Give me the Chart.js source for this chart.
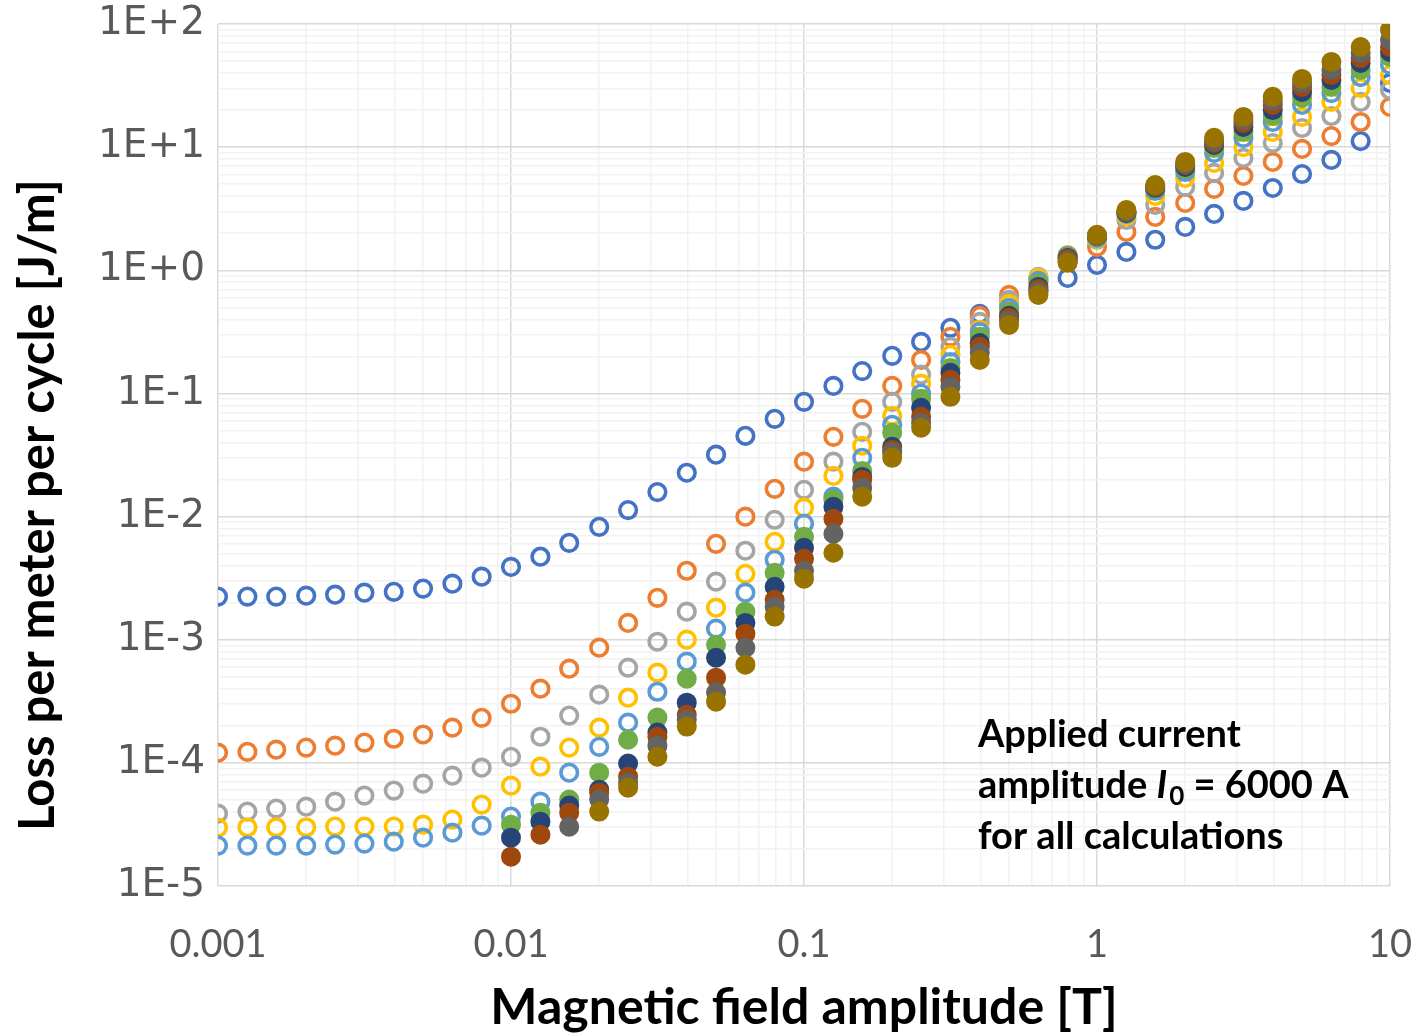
<!DOCTYPE html>
<html>
<head>
<meta charset="utf-8">
<title>Loss per meter per cycle</title>
<script src="https://cdn.jsdelivr.net/npm/chart.js@4/dist/chart.umd.min.js"></script>
<style>
    body { margin: 0; background: #fff; }
    canvas { display: block; }
</style>
</head>
<body>
<canvas id="lossChart" width="1414" height="1036"></canvas>
<script>
// Magnetic field amplitude [T], 10 points per decade
const fieldValues = [
    0.001, 0.00126, 0.00158, 0.002, 0.00251, 0.00316, 0.00398, 0.00501, 0.00631, 0.00794,
    0.01, 0.0126, 0.0158, 0.02, 0.0251, 0.0316, 0.0398, 0.0501, 0.0631, 0.0794,
    0.1, 0.126, 0.158, 0.2, 0.251, 0.316, 0.398, 0.501, 0.631, 0.794,
    1, 1.26, 1.58, 2, 2.51, 3.16, 3.98, 5.01, 6.31, 7.94, 10
];

// Loss per meter per cycle [J/m], one array per calculation
const lossBlue = [
    2.24e-3, 2.24e-3, 2.24e-3, 2.28e-3, 2.32e-3, 2.41e-3, 2.45e-3, 2.6e-3, 2.85e-3, 3.25e-3,
    3.9e-3, 4.72e-3, 6.12e-3, 8.26e-3, 1.13e-2, 1.58e-2, 2.27e-2, 3.18e-2, 4.53e-2, 6.22e-2,
    8.55e-2, 0.115, 0.152, 0.202, 0.262, 0.341, 0.443, 0.54, 0.68, 0.867,
    1.106, 1.41, 1.77, 2.25, 2.87, 3.66, 4.66, 6.05, 7.87, 11.2, 33.2
];
const lossOrange = [
    1.21e-4, 1.23e-4, 1.28e-4, 1.33e-4, 1.38e-4, 1.46e-4, 1.57e-4, 1.70e-4, 1.93e-4, 2.32e-4,
    3.02e-4, 4.0e-4, 5.82e-4, 8.61e-4, 1.37e-3, 2.19e-3, 3.63e-3, 6.01e-3, 9.98e-3, 1.68e-2,
    2.79e-2, 4.44e-2, 7.5e-2, 0.115, 0.187, 0.288, 0.427, 0.631, 0.851, 1.19,
    1.55, 2.05, 2.71, 3.52, 4.58, 5.84, 7.59, 9.67, 12.3, 16.0, 21.2
];
const lossGray = [
    3.87e-5, 4.02e-5, 4.25e-5, 4.41e-5, 4.84e-5, 5.42e-5, 5.95e-5, 6.78e-5, 7.87e-5, 9.14e-5,
    1.12e-4, 1.63e-4, 2.42e-4, 3.58e-4, 5.93e-4, 9.63e-4, 1.69e-3, 2.96e-3, 5.28e-3, 9.42e-3,
    1.65e-2, 2.79e-2, 4.88e-2, 8.55e-2, 0.142, 0.239, 0.381, 0.575, 0.884, 1.31,
    1.77, 2.56, 3.4, 4.75, 6.18, 8.17, 10.8, 14.3, 17.9, 23.3, 29.1
];
const lossYellow = [
    2.98e-5, 3.0e-5, 3.0e-5, 3.0e-5, 3.04e-5, 3.04e-5, 3.04e-5, 3.15e-5, 3.46e-5, 4.58e-5,
    6.53e-5, 9.31e-5, 1.33e-4, 1.93e-4, 3.38e-4, 5.4e-4, 1.0e-3, 1.82e-3, 3.43e-3, 6.24e-3,
    1.18e-2, 2.14e-2, 3.76e-2, 6.58e-2, 0.12, 0.206, 0.328, 0.534, 0.867, 1.33,
    1.8, 2.76, 4.02, 5.62, 7.45, 10.0, 13.3, 17.6, 23.3, 30.2, 38.5
];
const lossLightBlue = [
    2.13e-5, 2.13e-5, 2.13e-5, 2.13e-5, 2.17e-5, 2.21e-5, 2.29e-5, 2.47e-5, 2.71e-5, 3.09e-5,
    3.66e-5, 4.84e-5, 8.33e-5, 1.35e-4, 2.12e-4, 3.78e-4, 6.63e-4, 1.23e-3, 2.41e-3, 4.46e-3,
    8.75e-3, 1.45e-2, 3.0e-2, 5.56e-2, 9.97e-2, 0.18, 0.316, 0.495, 0.82, 1.31,
    1.83, 2.87, 4.41, 6.29, 8.97, 11.9, 16.0, 22.0, 27.5, 37.1, 46.5
];
const lossGreen = [
    null, null, null, null, null, null, null, null, null, null,
    3.15e-5, 3.94e-5, 5.03e-5, 8.33e-5, 1.54e-4, 2.33e-4, 4.82e-4, 9.1e-4, 1.69e-3, 3.5e-3,
    6.86e-3, 1.37e-2, 2.35e-2, 4.79e-2, 9.04e-2, 0.161, 0.288, 0.459, 0.776, 1.28,
    1.87, 2.92, 4.58, 6.65, 9.86, 13.3, 17.9, 25.1, 30.8, 42.3, 54.0
];
const lossNavy = [
    null, null, null, null, null, null, null, null, null, null,
    2.47e-5, 3.33e-5, 4.5e-5, 6.06e-5, 9.86e-5, 1.76e-4, 3.08e-4, 7.14e-4, 1.37e-3, 2.69e-3,
    5.58e-3, 1.2e-2, 2.1e-2, 3.69e-2, 7.64e-2, 0.147, 0.257, 0.427, 0.733, 1.26,
    1.9, 2.92, 4.67, 6.9, 10.4, 14.6, 20.0, 28.1, 35.1, 48.2, 59.3
];
const lossBrown = [
    null, null, null, null, null, null, null, null, null, null,
    1.73e-5, 2.61e-5, 3.94e-5, 5.73e-5, 7.73e-5, 1.63e-4, 2.46e-4, 4.92e-4, 1.12e-3, 2.11e-3,
    4.54e-3, 9.6e-3, 1.99e-2, 3.48e-2, 6.46e-2, 0.129, 0.239, 0.411, 0.706, 1.24,
    1.9, 2.98, 4.75, 7.17, 10.8, 15.7, 22.0, 30.8, 38.5, 53.0, 65.0
];
const lossDarkGray = [
    null, null, null, null, null, null, null, null, null, null,
    null, null, 3.03e-5, 5.03e-5, 6.9e-5, 1.38e-4, 2.24e-4, 3.72e-4, 8.61e-4, 1.85e-3,
    3.63e-3, 7.25e-3, 1.71e-2, 3.3e-2, 5.77e-2, 0.113, 0.214, 0.388, 0.668, 1.19,
    1.9, 2.98, 4.84, 7.3, 11.2, 16.6, 23.7, 33.2, 42.3, 58.2, 74.1
];
const lossGold = [
    null, null, null, null, null, null, null, null, null, null,
    null, null, null, 4.02e-5, 6.29e-5, 1.12e-4, 1.97e-4, 3.14e-4, 6.27e-4, 1.54e-3,
    3.13e-3, 5.08e-3, 1.45e-2, 3.0e-2, 5.26e-2, 9.38e-2, 0.187, 0.36, 0.631, 1.15,
    1.94, 3.09, 4.93, 7.59, 11.9, 17.6, 25.6, 35.8, 49.2, 65.0, 89.4
];

const xTickLabels = ['0.001', '0.01', '0.1', '1', '10'];
const yTickLabels = ['1E-5', '1E-4', '1E-3', '1E-2', '1E-1', '1E+0', '1E+1', '1E+2'];

const xTitle = 'Magnetic field amplitude [T]';
const yTitle = 'Loss per meter per cycle [J/m]';
const noteLines = ['Applied current', 'amplitude ', 'for all calculations'];

// open markers first, filled ones after (drawn on top)
const seriesList = [
    { data: lossBlue, color: '#4472C4', filled: false },
    { data: lossOrange, color: '#ED7D31', filled: false },
    { data: lossGray, color: '#A5A5A5', filled: false },
    { data: lossYellow, color: '#FFC000', filled: false },
    { data: lossLightBlue, color: '#5B9BD5', filled: false },
    { data: lossGreen, color: '#70AD47', filled: true },
    { data: lossNavy, color: '#264478', filled: true },
    { data: lossBrown, color: '#9E480E', filled: true },
    { data: lossDarkGray, color: '#636363', filled: true },
    { data: lossGold, color: '#997300', filled: true }
];

function toPoints(values) {
    const pts = [];
    values.forEach((v, i) => {
        if (v !== null) pts.push({ x: fieldValues[i], y: v });
    });
    return pts;
}

function isDecade(v) {
    const e = Math.log10(v);
    return Math.abs(e - Math.round(e)) < 1e-6;
}

// all 1..9 x 10^n ticks so every minor gridline shows
function logTicks(scale) {
    const ticks = [];
    const lo = Math.round(Math.log10(scale.min));
    const hi = Math.round(Math.log10(scale.max));
    for (let e = lo; e <= hi; e++) {
        for (let m = 1; m <= 9; m++) {
            const v = m * Math.pow(10, e);
            if (v > scale.max * 1.0001) break;
            ticks.push({ value: v, major: m === 1 });
        }
    }
    scale.ticks = ticks;
}

const gridColor = (c) => (c.tick && isDecade(c.tick.value) ? '#D9D9D9' : '#F2F2F2');

const textPlugin = {
    id: 'chartTexts',
    afterDraw(chart) {
        const ctx = chart.ctx;
        const area = chart.chartArea;
        ctx.save();
        ctx.fillStyle = '#000';
        ctx.textAlign = 'center';
        ctx.textBaseline = 'middle';
        ctx.font = 'bold 50px Lato';
        ctx.fillText(xTitle, (area.left + area.right) / 2, 1008, 628);

        ctx.save();
        ctx.translate(38, 505);
        ctx.rotate(-Math.PI / 2);
        ctx.font = 'bold 49px Lato';
        ctx.fillText(yTitle, 0, 0, 662);
        ctx.restore();

        // note box
        ctx.textAlign = 'left';
        const nx = 978;
        ctx.font = 'bold 38px Lato';
        ctx.fillText(noteLines[0], nx, 735);
        ctx.fillText(noteLines[2], nx, 837);

        let x = nx;
        ctx.fillText(noteLines[1], x, 786);
        x += ctx.measureText(noteLines[1]).width;
        ctx.font = 'italic bold 38px Lato';
        ctx.fillText('I', x, 786);
        x += ctx.measureText('I').width + 2;
        ctx.font = 'bold 26px Lato';
        ctx.fillText('0', x, 797);
        x += ctx.measureText('0').width;
        ctx.font = 'bold 38px Lato';
        ctx.fillText(' = 6000 A', x, 786);
        ctx.restore();
    }
};

new Chart(document.getElementById('lossChart'), {
    type: 'scatter',
    data: {
        datasets: seriesList.map((s, i) => ({
            data: toPoints(s.data),
            order: seriesList.length - i,
            pointStyle: 'circle',
            pointRadius: s.filled ? 10 : 8.3,
            pointHoverRadius: s.filled ? 10 : 8.3,
            pointBorderWidth: s.filled ? 0 : 3.6,
            pointBorderColor: s.color,
            pointBackgroundColor: s.filled ? s.color : 'rgba(0,0,0,0)',
            borderColor: s.color,
            backgroundColor: s.filled ? s.color : 'rgba(0,0,0,0)',
            showLine: false
        }))
    },
    options: {
        responsive: false,
        animation: false,
        devicePixelRatio: 1,
        layout: { padding: { top: 24, right: 24, left: 0, bottom: 0 } },
        plugins: {
            legend: { display: false },
            tooltip: { enabled: false }
        },
        scales: {
            x: {
                type: 'logarithmic',
                min: 0.001,
                max: 10,
                afterBuildTicks: logTicks,
                afterFit: (s) => { s.height = 150; s.paddingLeft = 0; s.paddingRight = 0; },
                border: { display: false },
                grid: { color: gridColor, lineWidth: 1.5, drawTicks: false },
                ticks: {
                    autoSkip: false,
                    maxRotation: 0,
                    padding: 36,
                    color: '#595959',
                    font: { family: 'Lato', size: 38 },
                    callback: (v) => {
                        if (!isDecade(v)) return '';
                        return xTickLabels[Math.round(Math.log10(v)) + 3];
                    }
                }
            },
            y: {
                type: 'logarithmic',
                min: 1e-5,
                max: 100,
                afterBuildTicks: logTicks,
                afterFit: (s) => { s.width = 218; s.paddingTop = 0; s.paddingBottom = 0; },
                border: { display: false },
                grid: { color: gridColor, lineWidth: 1.5, drawTicks: false },
                ticks: {
                    autoSkip: false,
                    padding: 13,
                    color: '#595959',
                    font: { family: 'DejaVu Sans', size: 39 },
                    callback: (v) => {
                        if (!isDecade(v)) return '';
                        return yTickLabels[Math.round(Math.log10(v)) + 5];
                    }
                }
            }
        }
    },
    plugins: [textPlugin]
});
</script>
</body>
</html>
